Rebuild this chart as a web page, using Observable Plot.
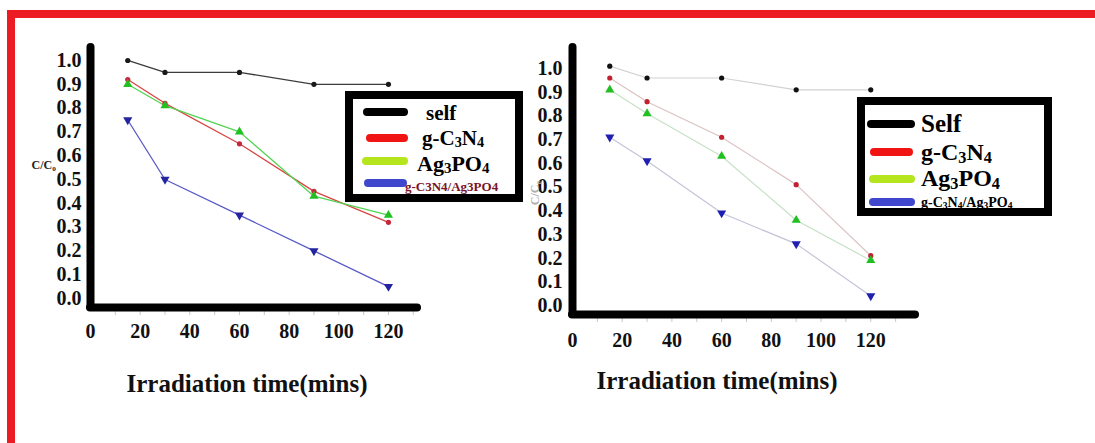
<!DOCTYPE html>
<html>
<head>
<meta charset="utf-8">
<script src="https://cdn.jsdelivr.net/npm/d3@7"></script>
<script src="https://cdn.jsdelivr.net/npm/@observablehq/plot@0.6"></script>
<style>
  html, body { margin: 0; padding: 0; background: #fff; }
  #root { position: relative; width: 1095px; height: 443px; overflow: hidden; background: #fff;
          font-family: "Liberation Serif", "Times New Roman", serif; }
  .bar { position: absolute; background: #ed1c24; z-index: 5; }
  .plot { position: absolute; top: 0; }
  .legend { position: absolute; border: 8px solid #000; background: #fff; box-sizing: border-box; z-index: 4; }
  .sw { position: absolute; height: 8px; border-radius: 4px; z-index: 6; }
  .lt { position: absolute; line-height: 1; white-space: nowrap; font-weight: bold; transform: translateY(-50%); z-index: 6; color: #000; }
  .lt sub { font-size: 0.68em; vertical-align: -0.16em; line-height: 0; }
</style>
</head>
<body>
<div id="root"></div>
<script>
// ---------------- data ----------------
const times = [15, 30, 60, 90, 120];
const seriesNames = ["self", "g-C3N4", "Ag3PO4", "g-C3N4/Ag3PO4"];

const leftSelf = [1.00, 0.95, 0.95, 0.90, 0.90];
const leftGCN  = [0.92, 0.82, 0.65, 0.45, 0.32];
const leftAg   = [0.90, 0.81, 0.70, 0.43, 0.35];
const leftComp = [0.75, 0.50, 0.35, 0.20, 0.05];

const rightSelf = [1.01, 0.96, 0.96, 0.91, 0.91];
const rightGCN  = [0.96, 0.86, 0.71, 0.51, 0.21];
const rightAg   = [0.91, 0.81, 0.63, 0.36, 0.19];
const rightComp = [0.71, 0.61, 0.39, 0.26, 0.04];

const yTicks = [0, 0.1, 0.2, 0.3, 0.4, 0.5, 0.6, 0.7, 0.8, 0.9, 1.0];
const xTicks = [0, 20, 40, 60, 80, 100, 120];
const xMinorTicks = [10, 20, 30, 40, 50, 60, 70, 80, 90, 100, 110, 120, 130];
const xLabel = "Irradiation time(mins)";
const yLabel = "C/C₀";
const leftLegendLabels = ["self", "g-C<sub>3</sub>N<sub>4</sub>", "Ag<sub>3</sub>PO<sub>4</sub>", "g-C3N4/Ag3PO4"];
const rightLegendLabels = ["Self", "g-C<sub>3</sub>N<sub>4</sub>", "Ag<sub>3</sub>PO<sub>4</sub>", "g-C<sub>3</sub>N<sub>4</sub>/Ag<sub>3</sub>PO<sub>4</sub>"];

// ---------------- styles ----------------
const sqrt3 = Math.sqrt(3);
const triangleDown = {
  draw(context, size) {
    const y = -Math.sqrt(size / (sqrt3 * 3));
    context.moveTo(0, -y * 2);
    context.lineTo(-sqrt3 * y, y);
    context.lineTo(sqrt3 * y, y);
    context.closePath();
  }
};
const symbols = [d3.symbolCircle, d3.symbolCircle, d3.symbolTriangle, triangleDown];
const swatchColors = ["#000000", "#f01414", "#b5e61d", "#3f48cc"];

const root = document.getElementById("root");

function buildRows(series) {
  const rows = [];
  series.forEach((vals, i) => times.forEach((t, j) => rows.push({t, v: vals[j], s: seriesNames[i]})));
  return rows;
}

function chart(series, o) {
  const rows = buildRows(series);
  const marks = [];
  marks.push(Plot.axisX({ticks: xMinorTicks, tickSize: 8, tickFormat: () => "", stroke: "#c8c8c8", label: null}));
  seriesNames.forEach((name, i) => {
    const d = rows.filter(r => r.s === name);
    marks.push(Plot.line(d, {x: "t", y: "v", stroke: o.lineColors[i], strokeWidth: o.lineWidth}));
  });
  seriesNames.forEach((name, i) => {
    const d = rows.filter(r => r.s === name);
    marks.push(Plot.dot(d, {x: "t", y: "v", symbol: symbols[i], fill: o.dotColors[i], stroke: "none", r: i < 2 ? o.circleR : o.triR}));
  });
  marks.push(Plot.ruleX([o.xDomain[0]], {stroke: "#000", strokeWidth: 8, strokeLinecap: "round"}));
  marks.push(Plot.ruleY([o.yDomain[0]], {stroke: "#000", strokeWidth: 8, strokeLinecap: "round"}));
  marks.push(Plot.axisX({ticks: xTicks, tickSize: 0, tickPadding: o.xPad, label: null,
    fontSize: 20, fontWeight: "bold", fill: "#111"}));
  marks.push(Plot.axisY({ticks: yTicks, tickFormat: d3.format(".1f"), tickSize: 0, tickPadding: o.yPad, label: null,
    fontSize: 20, fontWeight: "bold", fill: "#111"}));
  marks.push(Plot.text([xLabel], {frameAnchor: "bottom", dx: o.titleDx, dy: o.titleDy, lineAnchor: "middle",
    fontSize: 25, fontWeight: "bold", fill: "#111"}));
  marks.push(Plot.text([yLabel], {frameAnchor: "left", dx: o.yLabDx, dy: o.yLabDy, textAnchor: o.yLabRotate ? "middle" : "start",
    rotate: o.yLabRotate, fontSize: 12, fontWeight: "bold", fill: o.yLabColor}));

  const svg = Plot.plot({
    width: o.width, height: 443,
    marginLeft: o.ml, marginRight: o.mr, marginTop: o.mt, marginBottom: o.mb,
    x: {domain: o.xDomain}, y: {domain: o.yDomain},
    style: {fontFamily: '"Liberation Serif", "Times New Roman", serif', fontSize: "20px", fontWeight: "bold", background: "transparent", overflow: "visible"},
    marks
  });
  svg.classList.add("plot");
  svg.style.left = o.left + "px";
  root.appendChild(svg);
}

chart([leftSelf, leftGCN, leftAg, leftComp], {
  left: 0, width: 520, ml: 90, mr: 103, mt: 47, mb: 136,
  xDomain: [0, 131.7], yDomain: [-0.038, 1.0546],
  lineColors: ["#3c3c3c", "#d84444", "#52d452", "#5a5ac8"], lineWidth: 1.3,
  dotColors: ["#1a1a1a", "#c4283a", "#22c022", "#2424a0"], circleR: 2.6, triR: 3.4,
  xPad: 16, yPad: 9, titleDx: -7, titleDy: 76,
  yLabDx: -59, yLabDy: -12, yLabRotate: 0, yLabColor: "#222"
});

chart([rightSelf, rightGCN, rightAg, rightComp], {
  left: 520, width: 575, ml: 52, mr: 180, mt: 47, mb: 129,
  xDomain: [0, 138], yDomain: [-0.038, 1.0886],
  lineColors: ["#d2d2d2", "#dcc2c2", "#c6e0c6", "#c4c4d8"], lineWidth: 1.2,
  dotColors: ["#111111", "#c02030", "#20c020", "#2020b0"], circleR: 2.6, triR: 3.4,
  xPad: 18, yPad: 10, titleDx: -27, titleDy: 66,
  yLabDx: -37, yLabDy: 12, yLabRotate: -90, yLabColor: "#b0b0b0"
});

// ---------------- legends ----------------
function legend(box, rowsLayout, labels) {
  const b = document.createElement("div");
  b.className = "legend";
  Object.assign(b.style, {left: box[0] + "px", top: box[1] + "px", width: box[2] + "px", height: box[3] + "px"});
  root.appendChild(b);
  rowsLayout.forEach((r, i) => {
    const sw = document.createElement("div");
    sw.className = "sw";
    Object.assign(sw.style, {left: r.sx + "px", width: r.sw + "px", top: (r.sy - 4) + "px", background: swatchColors[i]});
    root.appendChild(sw);
    const t = document.createElement("div");
    t.className = "lt";
    t.innerHTML = labels[i];
    Object.assign(t.style, {left: r.tx + "px", top: r.ty + "px", fontSize: r.fs + "px", color: r.color || "#000"});
    root.appendChild(t);
  });
}

legend([345, 91, 178, 111], [
  {sx: 363, sw: 45, sy: 112, tx: 426, ty: 113, fs: 21},
  {sx: 366, sw: 42, sy: 138, tx: 422, ty: 138, fs: 21},
  {sx: 362, sw: 46, sy: 161, tx: 417, ty: 164, fs: 22},
  {sx: 364, sw: 43, sy: 183, tx: 405, ty: 186, fs: 13, color: "#7a1426"}
], leftLegendLabels);

legend([857, 97, 195, 119], [
  {sx: 867, sw: 48, sy: 124, tx: 921, ty: 123, fs: 25},
  {sx: 870, sw: 43, sy: 152, tx: 921, ty: 152, fs: 24},
  {sx: 869, sw: 46, sy: 179, tx: 921, ty: 178, fs: 24},
  {sx: 869, sw: 46, sy: 202, tx: 921, ty: 203, fs: 14}
], rightLegendLabels);

// ---------------- red frame ----------------
[[7, 10, 1088, 8], [7, 10, 8, 433]].forEach(([l, t, w, h]) => {
  const d = document.createElement("div");
  d.className = "bar";
  Object.assign(d.style, {left: l + "px", top: t + "px", width: w + "px", height: h + "px"});
  root.appendChild(d);
});
</script>
</body>
</html>
